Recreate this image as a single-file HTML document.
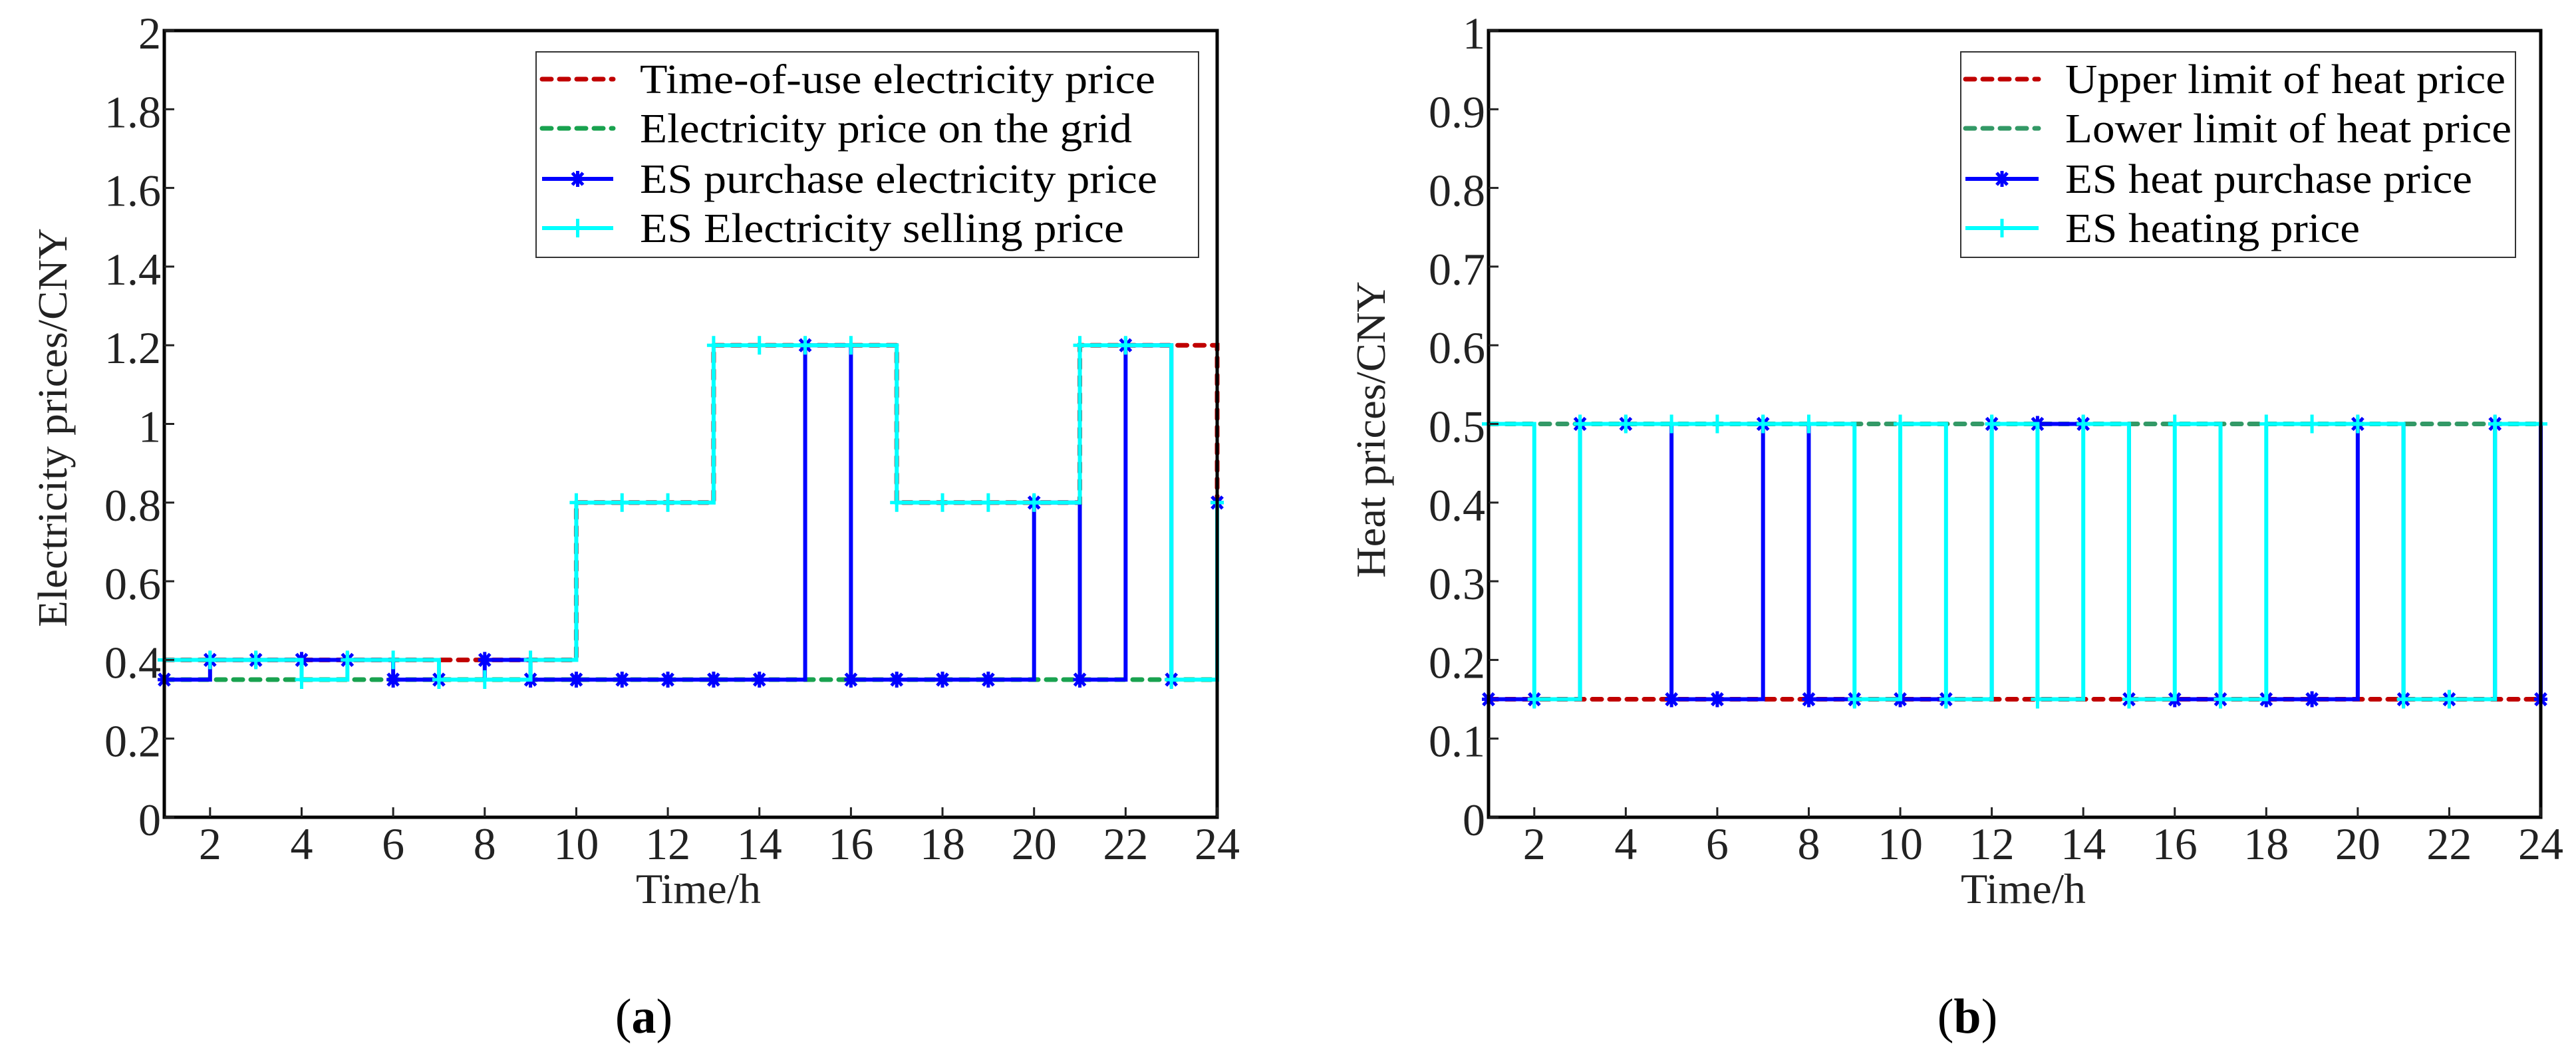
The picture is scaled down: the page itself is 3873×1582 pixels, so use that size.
<!DOCTYPE html>
<html><head><meta charset="utf-8"><style>
html,body{margin:0;padding:0;background:#fff;}
svg{display:block;font-family:"Liberation Serif",serif;}
text{font-family:"Liberation Serif",serif;}
</style></head><body>
<svg id="fig" width="3873" height="1582" viewBox="0 0 3873 1582" xmlns="http://www.w3.org/2000/svg"></svg>
<script>
const hours = [1,2,3,4,5,6,7,8,9,10,11,12,13,14,15,16,17,18,19,20,21,22,23,24];
const xTicks = [2,4,6,8,10,12,14,16,18,20,22,24];
// Panel (a)
const touPrice   = [0.4,0.4,0.4,0.4,0.4,0.4,0.4,0.4,0.4,0.8,0.8,0.8,1.2,1.2,1.2,1.2,0.8,0.8,0.8,0.8,1.2,1.2,1.2,0.8];
const gridPrice  = [0.35,0.35,0.35,0.35,0.35,0.35,0.35,0.35,0.35,0.35,0.35,0.35,0.35,0.35,0.35,0.35,0.35,0.35,0.35,0.35,0.35,0.35,0.35,0.35];
const esBuyElec  = [0.35,0.4,0.4,0.4,0.4,0.35,0.35,0.4,0.35,0.35,0.35,0.35,0.35,0.35,1.2,0.35,0.35,0.35,0.35,0.8,0.35,1.2,0.35,0.8];
const esSellElec = [0.4,0.4,0.4,0.35,0.4,0.4,0.35,0.35,0.4,0.8,0.8,0.8,1.2,1.2,1.2,1.2,0.8,0.8,0.8,0.8,1.2,1.2,0.35,0.8];
const yTicksA = [0,0.2,0.4,0.6,0.8,1,1.2,1.4,1.6,1.8,2];
const yLabelsA = ["0","0.2","0.4","0.6","0.8","1","1.2","1.4","1.6","1.8","2"];
// Panel (b)
const heatUpper  = [0.15,0.15,0.15,0.15,0.15,0.15,0.15,0.15,0.15,0.15,0.15,0.15,0.15,0.15,0.15,0.15,0.15,0.15,0.15,0.15,0.15,0.15,0.15,0.15];
const heatLower  = [0.5,0.5,0.5,0.5,0.5,0.5,0.5,0.5,0.5,0.5,0.5,0.5,0.5,0.5,0.5,0.5,0.5,0.5,0.5,0.5,0.5,0.5,0.5,0.5];
const esBuyHeat  = [0.15,0.15,0.5,0.5,0.15,0.15,0.5,0.15,0.15,0.15,0.15,0.5,0.5,0.5,0.15,0.15,0.15,0.15,0.15,0.5,0.15,0.15,0.5,0.15];
const esSellHeat = [0.5,0.15,0.5,0.5,0.5,0.5,0.5,0.5,0.15,0.5,0.15,0.5,0.15,0.5,0.15,0.5,0.15,0.5,0.5,0.5,0.15,0.15,0.5,0.5];
const yTicksB = [0,0.1,0.2,0.3,0.4,0.5,0.6,0.7,0.8,0.9,1];
const yLabelsB = ["0","0.1","0.2","0.3","0.4","0.5","0.6","0.7","0.8","0.9","1"];
const legendA = ["Time-of-use electricity price","Electricity price on the grid","ES purchase electricity price","ES Electricity selling price"];
const legendB = ["Upper limit of heat price","Lower limit of heat price","ES heat purchase price","ES heating price"];

const NS = "http://www.w3.org/2000/svg";
const svg = document.getElementById('fig');
function mk(tag, attrs, parent){ const e=document.createElementNS(NS,tag); for(const k in attrs) e.setAttribute(k,attrs[k]); (parent||svg).appendChild(e); return e; }

function drawPanel(cfg){
  const g = mk('g',{});
  
  
  const L=cfg.x0, R=cfg.x1, T=46, B=1229;
  const xs = h => L + (h-1)/23*(R-L);
  const ys = v => B - v/cfg.ymax*(B-T);
  const series = [
    {d:cfg.s[0], color:"#c00000", dash:true, name:'series-red-dashed'},
    {d:cfg.s[1], color:cfg.green, dash:true, name:'series-green-dashed'},
    {d:cfg.s[2], color:"#0000ff", marker:'star', name:'series-blue-star'},
    {d:cfg.s[3], color:"#00ffff", marker:'plus', name:'series-cyan-plus'}
  ];
  series.forEach(s=>{
    let p = "M"+xs(hours[0])+","+ys(s.d[0]);
    for(let i=1;i<hours.length;i++){ p += " L"+xs(hours[i])+","+ys(s.d[i-1])+" L"+xs(hours[i])+","+ys(s.d[i]); }
    const path = mk('path',{d:p,fill:'none',stroke:s.color,'stroke-width':s.dash?7:6,'stroke-dasharray':s.dash?'14 12':'none','stroke-linecap':s.dash?'round':'butt'},g);
    
    
    if(s.marker){
      hours.forEach((h,i)=>{ drawMarker(g,s.marker,xs(h),ys(s.d[i]),s.color); });
    }
  });
  const box = mk('rect',{x:L,y:T,width:R-L,height:B-T,fill:'none',stroke:'#000','stroke-width':5},g);
  
  
  xTicks.forEach(t=>{
    mk('line',{x1:xs(t),x2:xs(t),y1:B,y2:B-15,stroke:'#222','stroke-width':3},g);
    const tx = mk('text',{x:xs(t),y:1292,'font-size':68,'text-anchor':'middle',fill:'#222'},g);
    tx.textContent=t;
    
    
  });
  cfg.yt.forEach((t,i)=>{
    mk('line',{x1:L,x2:L+15,y1:ys(t),y2:ys(t),stroke:'#222','stroke-width':3},g);
    const tx = mk('text',{x:L-5,y:ys(t)+27,'font-size':68,'text-anchor':'end',fill:'#222'},g);
    tx.textContent=cfg.yl[i];
    
    
  });
  const xt = mk('text',{x:cfg.xtX,y:1358,'font-size':64,fill:'#222',textLength:188,lengthAdjust:'spacingAndGlyphs'},g);
  xt.textContent="Time/h";
  
  
  const yt = mk('text',{x:0,y:0,'font-size':62,fill:'#222','text-anchor':'middle',textLength:cfg.ytLen,lengthAdjust:'spacingAndGlyphs',transform:`translate(${cfg.ytX},${cfg.ytY}) rotate(-90)`},g);
  yt.textContent=cfg.ytitle;
  
  
  const cap = mk('text',{x:cfg.capX,y:1553,'font-size':74,fill:'#000','text-anchor':'middle'},g);
  cap.innerHTML = '(<tspan font-weight="bold">'+cfg.cap+'</tspan>)';
  
  
  const lg = mk('g',{},g);
  
  
  mk('rect',{x:cfg.lg[0],y:78,width:cfg.lg[1]-cfg.lg[0],height:309,fill:'#fff',stroke:'#333','stroke-width':2},lg);
  const rowsY=[119,193,269,343];
  series.forEach((s,i)=>{
    const e = mk('g',{},lg);
    
    
    mk('line',{x1:cfg.ls[0],x2:cfg.ls[1],y1:rowsY[i],y2:rowsY[i],stroke:s.color,'stroke-width':s.dash?7:6,'stroke-dasharray':s.dash?'14 12':'none','stroke-linecap':s.dash?'round':'butt'},e);
    if(s.marker) drawMarker(e,s.marker,(cfg.ls[0]+cfg.ls[1])/2,rowsY[i],s.color);
    const t = mk('text',{x:cfg.lt,y:rowsY[i]+21,'font-size':62,fill:'#000',textLength:cfg.lw[i],lengthAdjust:'spacingAndGlyphs'},e);
    t.textContent=cfg.names[i];
  });
}
function drawMarker(g,type,x,y,c){
  if(type==='plus'){
    mk('path',{d:`M${x-10},${y} H${x+10} M${x},${y-14} V${y+14}`,stroke:c,'stroke-width':5,fill:'none'},g);
  } else {
    mk('path',{d:`M${x-10},${y} H${x+10} M${x},${y-12} V${y+12} M${x-8},${y-9} L${x+8},${y+9} M${x-8},${y+9} L${x+8},${y-9}`,stroke:c,'stroke-width':5,fill:'none'},g);
  }
}
drawPanel({name:'chart-electricity-prices',x0:247,x1:1830,ymax:2,yt:yTicksA,yl:yLabelsA,green:'#19a24f',
  s:[touPrice,gridPrice,esBuyElec,esSellElec],xtX:956,ytX:100,ytY:643,ytLen:600,ytitle:'Electricity prices/CNY',capX:968,cap:'a',
  lg:[806,1802],ls:[815,922],lt:962,lw:[775,740,778,728],names:legendA});
drawPanel({name:'chart-heat-prices',x0:2238,x1:3820,ymax:1,yt:yTicksB,yl:yLabelsB,green:'#339966',
  s:[heatUpper,heatLower,esBuyHeat,esSellHeat],xtX:2948,ytX:2082,ytY:646,ytLen:446,ytitle:'Heat prices/CNY',capX:2958,cap:'b',
  lg:[2948,3782],ls:[2955,3065],lt:3105,lw:[662,671,612,443],names:legendB});
</script>
</body></html>
